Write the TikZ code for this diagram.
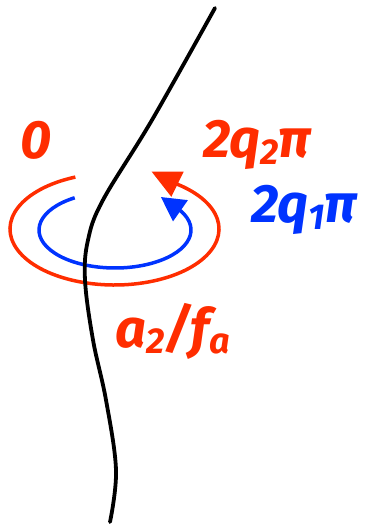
\documentclass[tikz,border=0pt]{standalone}
\usepackage{fontspec}
\setmainfont{Fira Sans}
\usepackage{tikz}
\usetikzlibrary{arrows.meta,positioning}
\definecolor{phred}{RGB}{255,45,0}
\definecolor{phblue}{RGB}{0,51,255}
\tikzset{
  ph/label/.style={font=\fontsize{54}{54}\selectfont\bfseries\itshape, inner sep=0pt},
  ph/loop/.style={line width=3.5pt},
  ph/string/.style={line width=3.8pt, black, line cap=round},
}
\newcommand{\lowsub}[1]{\raisebox{-0.12em}{\fontsize{36}{36}\selectfont #1}}

\begin{document}
\begin{tikzpicture}[x=1pt, y=1pt]
  \useasboundingbox (0,0) rectangle (365,525);

  % the two windings
  \coordinate (cred) at (114.5,296);
  \coordinate (cblue) at (115,295);
  \draw[ph/loop, phred, -{Triangle[length=29pt,width=27pt]}]
    ([shift={(112:104.5 and 56)}]cred) arc[start angle=112, end angle=412.6, x radius=104.5, y radius=56]
    -- ++(-26.5,13);
  \draw[ph/loop, phblue, -{Triangle[length=24pt,width=25pt]}]
    ([shift={(122:76 and 38)}]cblue) arc[start angle=122, end angle=390, x radius=76, y radius=38]
    -- ++(-20,14);

  % string
  \draw[ph/string] plot[smooth, tension=0.6] coordinates
    {(215,517) (152,405) (103,325) (88,285) (85,245) (93,185) (106,125) (116,55) (110,3)};

  % labels
  \node[ph/label, phred] (zero) at (36,385) {0};
  \node[ph/label, phred] (twoq2) at (257,380) {2q\lowsub{2}π};
  \node[ph/label, phblue] (twoq1) at (304,315) {2q\lowsub{1}π};
  \node[ph/label, phred] (ratio) at (173,194) {a\lowsub{2}/f\lowsub{a}};
\end{tikzpicture}
\end{document}
